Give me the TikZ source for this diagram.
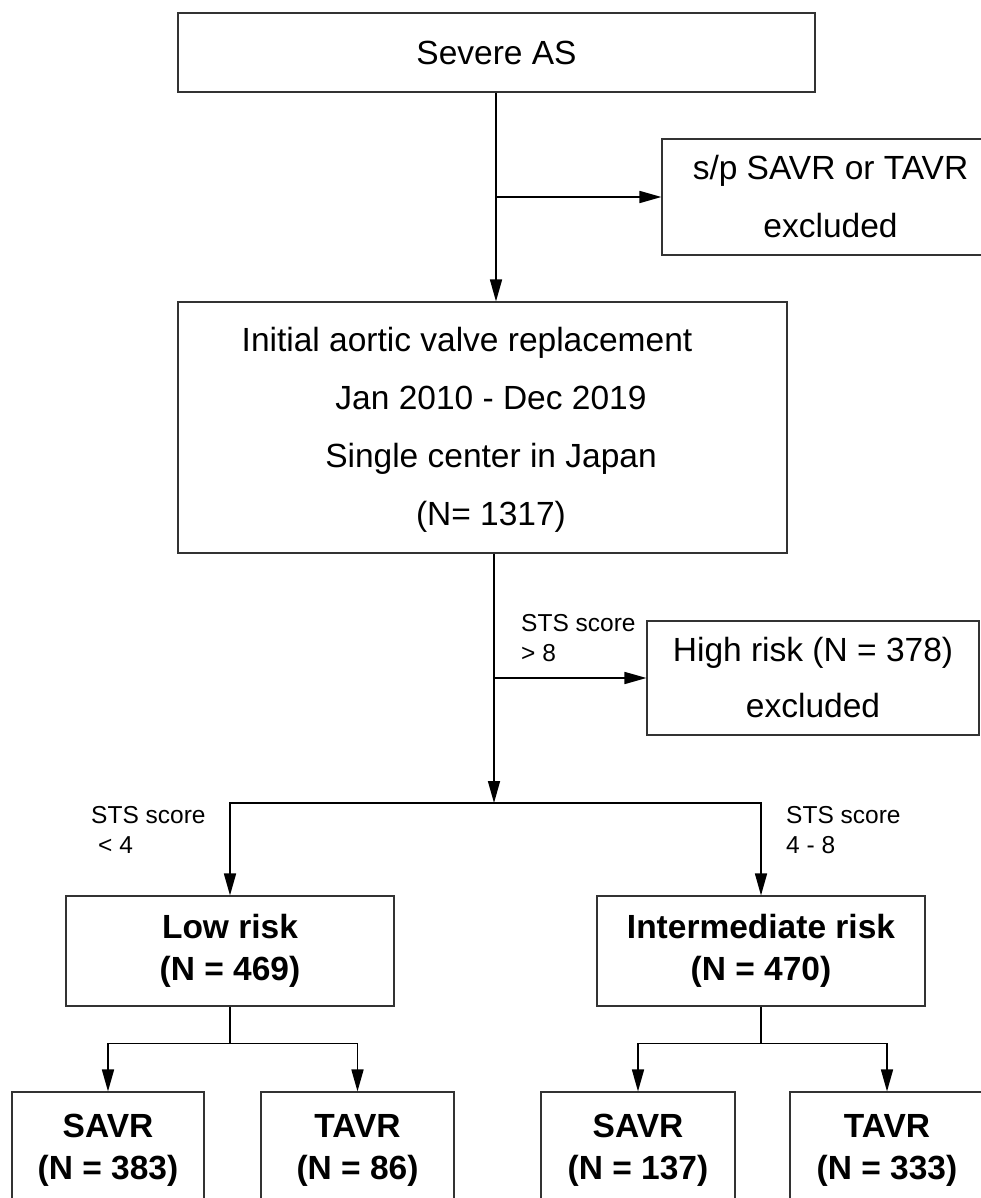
\documentclass[tikz,border=0pt]{standalone}
\usepackage{fontspec}
\setmainfont{Liberation Sans}
\usetikzlibrary{arrows.meta}
\begin{document}
\begin{tikzpicture}[x=1pt,y=-1pt,
  box/.style={draw=black!80, line width=1.1pt, inner sep=0pt, align=center},
  big/.style={font=\fontsize{33.5}{58}\selectfont},
  bigh/.style={font=\fontsize{33.5}{56}\selectfont},
  boldtxt/.style={font=\fontsize{33.5}{42}\selectfont\bfseries},
  lab/.style={font=\fontsize{24.5}{30}\selectfont, align=left, inner sep=0pt, anchor=north west},
  conn/.style={line width=1.6pt, black},
  arr/.style={conn, -{Triangle[length=22pt,width=12pt]}},
]
\clip (0,0) rectangle (981,1198);

% boxes
\node[box, big, minimum width=637pt, minimum height=79pt] (sev) at (496.5,52.5) {Severe AS};
\node[box, big, minimum width=337pt, minimum height=116pt] (excl1) at (830.5,197) {s/p SAVR or TAVR\\excluded};
\node[box, minimum width=609pt, minimum height=251pt] (init) at (482.5,427.5) {};
\node[big, align=center, inner sep=0pt] (initT) at (491,430) {Initial aortic valve replacement\hspace*{48pt}\\Jan 2010 - Dec 2019\\Single center in Japan\\(N= 1317)};
\node[box, bigh, minimum width=332pt, minimum height=114pt] (high) at (813,678) {High risk (N = 378)\\excluded};
\node[box, boldtxt, minimum width=328pt, minimum height=110pt] (low) at (230,951) {Low risk\\(N = 469)};
\node[box, boldtxt, minimum width=328pt, minimum height=110pt] (inter) at (761,951) {Intermediate risk\\(N = 470)};
\node[box, boldtxt, minimum width=192pt, minimum height=116pt] (savr1) at (108,1150) {SAVR\\(N = 383)};
\node[box, boldtxt, minimum width=193pt, minimum height=116pt] (tavr1) at (357.5,1150) {TAVR\\(N = 86)};
\node[box, boldtxt, minimum width=194pt, minimum height=116pt] (savr2) at (638,1150) {SAVR\\(N = 137)};
\node[box, boldtxt, minimum width=194pt, minimum height=116pt] (tavr2) at (887,1150) {TAVR\\(N = 333)};

% labels
\node[lab] (l8) at (521,614) {STS score\\> 8};
\node[lab] (l4) at (91,806) {STS score\\\hspace*{7pt}< 4};
\node[lab] (l48) at (786,806) {STS score\\4 - 8};

% connectors
\coordinate (j1) at (496,197);
\draw[arr] (sev.south -| j1) -- (j1 |- init.north);
\draw[arr] (j1) -- (excl1.west);
\coordinate (b0) at (494,803);
\coordinate (j2) at (b0 |- high.west);
\draw[arr] (b0 |- init.south) -- (b0);
\draw[arr] (j2) -- (high.west);
\draw[arr] (b0) -| (low.north);
\draw[arr] (b0) -| (inter.north);
\path (low.south) ++(0,37) coordinate (b1);
\path (inter.south) ++(0,37) coordinate (b2);
\draw[conn] (low.south) -- (b1);
\draw[arr] (b1) -| (savr1.north);
\draw[arr] (b1) -| (tavr1.north);
\draw[conn] (inter.south) -- (b2);
\draw[arr] (b2) -| (savr2.north);
\draw[arr] (b2) -| (tavr2.north);
\end{tikzpicture}
\end{document}
